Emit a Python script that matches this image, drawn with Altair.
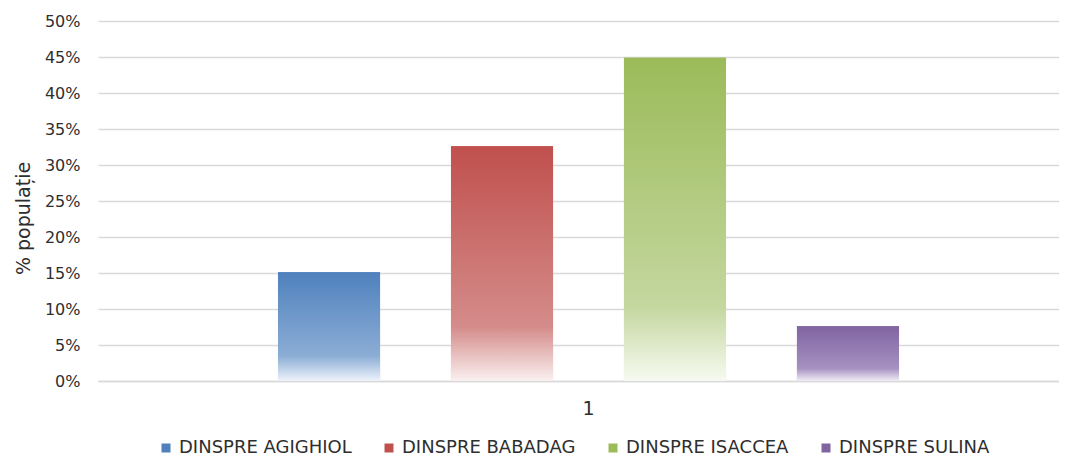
import altair as alt
import pandas as pd

series = ["DINSPRE AGIGHIOL", "DINSPRE BABADAG", "DINSPRE ISACCEA", "DINSPRE SULINA"]
values = [0.151, 0.326, 0.449, 0.076]
group = ["1", "1", "1", "1"]
top_colors = ["#4f81bd", "#c0504d", "#9bbb59", "#8064a2"]
mid_colors = ["#8badd5", "#d48c8a", "#c4d79f", "#a691c0"]
low_colors = ["#eef3fa", "#faf0f0", "#f7faf1", "#f1edf6"]
y_ticks = [0, 0.05, 0.10, 0.15, 0.20, 0.25, 0.30, 0.35, 0.40, 0.45, 0.50]

FONT = "DejaVu Sans"
TEXT = "#2e2e2e"

df = pd.DataFrame({"grup": group, "serie": series, "valoare": values})

x_enc = alt.X(
    "grup:N",
    scale=alt.Scale(range=[0, 981], paddingInner=0, paddingOuter=0.00724),
    axis=alt.Axis(
        title=None, labelAngle=0, ticks=False, labelPadding=18,
        labelFontSize=19, labelColor=TEXT, domainColor="#d9d9d9", domainWidth=1.5,
        grid=False,
    ),
)
xoff_enc = alt.XOffset(
    "serie:N", sort=series,
    scale=alt.Scale(domain=series, paddingInner=0.41, paddingOuter=1.0),
)
y_enc = alt.Y(
    "valoare:Q",
    scale=alt.Scale(domain=[0, 0.5], nice=False),
    axis=alt.Axis(
        values=y_ticks, format=".0%", title="% populație", ticks=False, domain=False,
        labelPadding=18, labelFontSize=16, labelColor=TEXT,
        titleFontSize=19, titleFontWeight="normal", titleColor=TEXT,
        titleX=-75, titleY=197, titleBaseline="middle", titleAngle=270,
        gridColor="#d9d9d9", gridWidth=1.5,
    ),
)

base = alt.Chart(df).mark_bar().encode(
    x=x_enc,
    xOffset=xoff_enc,
    y=y_enc,
    color=alt.Color(
        "serie:N", sort=series,
        scale=alt.Scale(domain=series, range=top_colors),
        legend=alt.Legend(
            title=None, orient="none", legendX=59, legendY=418,
            direction="horizontal", columns=4, symbolType="square",
            symbolSize=81, symbolStrokeWidth=0, labelFontSize=18,
            labelLimit=400, labelColor=TEXT, columnPadding=28, labelOffset=4,
        ),
    ),
)

layers = [base]
for s, c_top, c_mid, c_low in zip(series, top_colors, mid_colors, low_colors):
    grad = alt.Gradient(
        gradient="linear",
        stops=[
            alt.GradientStop(color=c_top, offset=0),
            alt.GradientStop(color=c_mid, offset=0.77),
            alt.GradientStop(color=c_low, offset=1),
        ],
        x1=0, x2=0, y1=0, y2=1,
    )
    layers.append(
        alt.Chart(df)
        .transform_filter(alt.datum.serie == s)
        .mark_bar(fill=grad)
        .encode(x=x_enc, xOffset=xoff_enc, y=y_enc)
    )

chart = (
    alt.layer(*layers)
    .properties(
        width=961, height=360,
        autosize=alt.AutoSizeParams(type="none"),
        padding={"left": 90, "top": 13, "right": 0, "bottom": 77},
    )
    .configure(font=FONT)
    .configure_view(stroke=None)
)

chart.save("out.html", embed_options={"renderer": "svg", "actions": False})
